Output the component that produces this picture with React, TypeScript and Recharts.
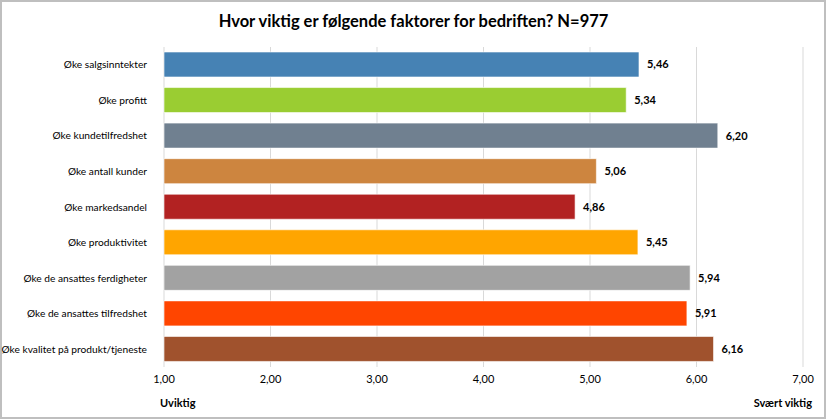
import React from "react";
import { BarChart, Bar, XAxis, YAxis, CartesianGrid, Cell, LabelList } from "recharts";

const categories = [
  "Øke salgsinntekter",
  "Øke profitt",
  "Øke kundetilfredshet",
  "Øke antall kunder",
  "Øke markedsandel",
  "Øke produktivitet",
  "Øke de ansattes ferdigheter",
  "Øke de ansattes tilfredshet",
  "Øke kvalitet på produkt/tjeneste",
];
const values = [5.46, 5.34, 6.2, 5.06, 4.86, 5.45, 5.94, 5.91, 6.16];
const colors = ["#4682B4", "#9ACD32", "#708090", "#CD853F", "#B22222", "#FFA500", "#A2A2A2", "#FF4500", "#A0522D"];
const ticks = [1, 2, 3, 4, 5, 6, 7];
const title = "Hvor viktig er følgende faktorer for bedriften? N=977";
const lowLabel = "Uviktig";
const highLabel = "Svært viktig";

const data = categories.map((c, i) => ({ name: c, value: values[i] }));
const fmt = (v: number) => v.toFixed(2).replace(".", ",");
const FONT = "Lato, 'Noto Sans', sans-serif";

const CatTick = (props: any) => {
  const { x, y, payload } = props;
  return (
    <text x={x - 9} y={y} dy="0.35em" textAnchor="end" fontSize={10.2} fill="#000" fontFamily={FONT}>
      {payload.value}
    </text>
  );
};

export default function App() {
  return (
    <div style={{ position: "fixed", left: 0, top: 0, width: 827, height: 420, background: "#fff", fontFamily: FONT }}>
      <div style={{ position: "absolute", left: 0, top: 0, width: 826, height: 419, border: "2px solid #BFBFBF", boxSizing: "border-box" }} />
      <div style={{ position: "absolute", left: 0, top: 11, width: 827, textAlign: "center", fontWeight: 700, fontSize: 16.5, color: "#000" }}>{title}</div>
      <div style={{ position: "absolute", left: 0, top: 0 }}>
        <BarChart width={827} height={420} data={data} layout="vertical" margin={{ top: 47, right: 24, bottom: 25, left: 0 }} barSize={25}>
          <CartesianGrid horizontal={false} stroke="#D9D9D9" strokeWidth={1} />
          <XAxis type="number" domain={[1, 7]} ticks={ticks} tickFormatter={fmt} interval={0}
            axisLine={false} tickLine={false} tickSize={4} tickMargin={4}
            height={28} tick={{ fontSize: 11, fill: "#000", fontFamily: FONT }} />
          <YAxis type="category" dataKey="name" width={164} axisLine={false} tickLine={false}
            tick={<CatTick />} interval={0} />
          <Bar dataKey="value" isAnimationActive={false} stroke="#ffffff" strokeOpacity={0.6} strokeWidth={1}>
            {data.map((d, i) => (
              <Cell key={d.name} fill={colors[i]} />
            ))}
            <LabelList dataKey="value" position="right" offset={8} formatter={(v: any) => fmt(Number(v))}
              style={{ fontSize: 11, fontWeight: 700, fill: "#000", fontFamily: FONT }} />
          </Bar>
        </BarChart>
      </div>
      <div style={{ position: "absolute", left: 160, top: 396, fontSize: 11, fontWeight: 700, color: "#000" }}>{lowLabel}</div>
      <div style={{ position: "absolute", right: 827 - 812, top: 396, fontSize: 11, fontWeight: 700, color: "#000" }}>{highLabel}</div>
    </div>
  );
}
